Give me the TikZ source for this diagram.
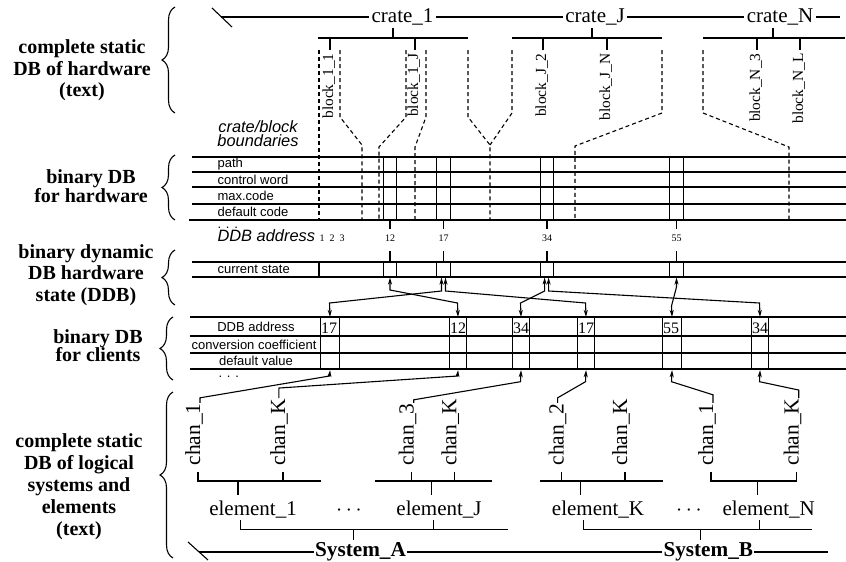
\documentclass[tikz,border=0pt]{standalone}
\usepackage{fontspec}
\setmainfont{Liberation Serif}
\setsansfont{Liberation Sans}
\usetikzlibrary{arrows.meta,decorations.pathreplacing}
\tikzset{
  grp/.style={font=\bfseries\fontsize{10}{10.7}\selectfont,align=center,inner sep=0pt},
  brc/.style={decorate,decoration={brace,amplitude=6.5pt}},
  big/.style={font=\fontsize{10.5}{12}\selectfont,inner sep=1pt},
  blk/.style={font=\fontsize{7.7}{9}\selectfont,rotate=90,anchor=base east,inner sep=0pt},
  chn/.style={font=\fontsize{10.75}{12}\selectfont,rotate=90,anchor=base west,inner sep=0pt},
  sys/.style={font=\bfseries\fontsize{10.6}{12}\selectfont,inner sep=0.3pt},
  lbl/.style={font=\sffamily\fontsize{6.5}{7}\selectfont,inner sep=0pt},
  itl/.style={font=\sffamily\itshape\fontsize{8.2}{6}\selectfont,inner sep=0pt},
  bnd/.style={dash pattern=on 2pt off 1.5pt},
  cell/.style={draw,inner sep=0pt},
  adr/.style={font=\fontsize{5}{6}\selectfont,inner sep=0pt,anchor=base},
  val/.style={font=\fontsize{8}{9}\selectfont,inner sep=0pt,anchor=base west},
  tips/.style={>={Stealth[length=3.5pt,width=2pt,inset=1pt]}}
}
\begin{document}
\begin{tikzpicture}[x=0.5pt,y=-0.5pt,line width=0.55pt,tips]
\useasboundingbox (0,0) rectangle (846,562);

\node[grp] (hwtxt) at (82,70.5) {complete static\\DB of hardware\\(text)};
\node[grp,font=\bfseries\fontsize{10}{9.2}\selectfont] (hwbin) at (91,186) {binary DB\\for hardware};
\node[grp] (ddbtxt) at (86,275) {binary dynamic\\DB hardware\\state (DDB)};
\node[grp,font=\bfseries\fontsize{10}{9.2}\selectfont] (clbin) at (98,345.5) {binary DB\\for clients};
\node[grp,font=\bfseries\fontsize{10}{10.9}\selectfont] (lgtxt) at (79,486.7) {complete static\\DB of logical\\systems and\\elements\\(text)};
\draw[brc] (175,113) -- (175,7);
\draw[brc] (175,220) -- (175,155);
\draw[brc] (175,305) -- (175,250);
\draw[brc] (173,380) -- (173,317);
\draw[brc] (173,558) -- (173,392);

\node[big] (cr1) at (402.5,17) {crate\_1};
\node[big] (crJ) at (595,17) {crate\_J};
\node[big] (crN) at (780,17) {crate\_N};
\draw (212,8) -- (232,27);
\draw (221,17) -- (cr1) -- (crJ) -- (crN) -- (840,17);
\draw (318,38) -- (468,38) (393,38) -- (393,28) (330,38) -- (330,50) (415,38) -- (415,50);
\draw (512,38) -- (662,38) (592,38) -- (592,28) (543,38) -- (543,50) (607,38) -- (607,50);
\draw (703,38) -- (845,38) (773,38) -- (773,28) (757,38) -- (757,50) (800,38) -- (800,50);
\node[blk] (b11) at (333,53) {block\_1\_1};
\node[blk] (b1J) at (418,53) {block\_1\_J};
\node[blk] (bJ2) at (546,53) {block\_J\_2};
\node[blk] (bJN) at (610,53) {block\_J\_N};
\node[blk] (bN3) at (760,53) {block\_N\_3};
\node[blk] (bNL) at (803,53) {block\_N\_L};

\draw[bnd] (319,50) -- (319,220);
\draw[bnd] (340,50) -- (340,117) -- (362,145) -- (362,220);
\draw[bnd] (406,50) -- (406,117) -- (379,147) -- (379,220);
\draw[bnd] (426,50) -- (426,117) -- (415,147) -- (415,220);
\draw[bnd] (468,50) -- (468,117) -- (490,145) -- (490,220);
\draw[bnd] (512,50) -- (512,113) -- (490,145);
\draw[bnd] (662,50) -- (662,113) -- (575,146) -- (575,220);
\draw[bnd] (703,50) -- (703,113) -- (789,147) -- (789,222);
\node[itl,align=center] (bnds) at (258,133.5) {crate/block\\boundaries};

\foreach \y in {157,172,187,204} \draw (192,\y) -- (846,\y);
\draw (189,220) -- (846,220);
\node[lbl,anchor=west] (pth) at (217,164.3) {path};
\node[lbl,anchor=west] (cwd) at (217,179.5) {control word};
\node[lbl,anchor=west] (mxc) at (217,195.8) {max.code};
\node[lbl,anchor=west] (dfc) at (217,212.2) {default code};
\node[lbl,anchor=base west] (hwdots) at (217,228) {. . .};
\node[itl,anchor=base west] (dda) at (217,241.7) {DDB address};
\foreach \n in {1,2,3} \node[adr] at (312+10*\n,241.7) {\n};

\draw (192,262) -- (846,262) (192,277) -- (846,277) (319,262) -- (319,277);
\node[lbl,anchor=west] (cst) at (217,269.5) {current state};
\foreach \n/\x in {12/390,17/443.5,34/547,55/676.5}{
  \node[cell,minimum width=6.75pt,minimum height=31.5pt] (hw\n) at (\x,188.5) {};
  \node[cell,minimum width=6.75pt,minimum height=7.5pt] (ddb\n) at (\x,269.5) {};
  \node[adr] (ad\n) at (\x,241.7) {\n};
  \draw (hw\n.south) -- ++(0,8) (ddb\n.north) -- ++(0,-10);
}

\foreach \y in {317,336,353,369} \draw (190,\y) -- (846,\y);
\node[lbl] (cda) at (256,326.5) {DDB address};
\node[lbl] (cco) at (254,344.5) {conversion coefficient};
\node[lbl] (cdv) at (256,361) {default value};
\node[lbl,anchor=base west] (cldots) at (218,377) {. . .};
\foreach \n/\v/\l/\w in {a/17/320/19,b/12/449/17,c/34/512/17,d/17/577/17,e/55/662/19,f/34/751/17}{
  \node[cell,anchor=north west,minimum width=\w*0.5pt,minimum height=26pt] (cl\n) at (\l,317) {};
  \node[val] at (\l+0.5,333.5) {\v};
}

\draw[<->] (ddb12.south) -- (390,290) -- (457.5,303) -- (clb.north);
\draw[<->] ([xshift=-1pt]ddb17.south) -- (441.5,291) -- (329.5,303) -- (cla.north);
\draw[<->] ([xshift=1pt]ddb17.south) -- (445.5,291) -- (585.5,303) -- (cld.north);
\draw[<->] ([xshift=-1.2pt]ddb34.south) -- (544.6,291) -- (520.5,303) -- (clc.north);
\draw[<->] ([xshift=0.8pt]ddb34.south) -- (548.6,291) -- (759.5,303) -- (clf.north);
\draw[<->] (ddb55.south) -- (676.5,287) -- (671.5,306) -- (cle.north);

\node[chn] (chA1) at (200,466) {chan\_1};
\node[chn] (chAK) at (285,466) {chan\_K};
\node[chn] (chJ3) at (413.7,466) {chan\_3};
\node[chn] (chJK) at (456.3,466) {chan\_K};
\node[chn] (chK2) at (563.7,466) {chan\_2};
\node[chn] (chKK) at (627,466) {chan\_K};
\node[chn] (chN1) at (713,466) {chan\_1};
\node[chn] (chNK) at (798.7,466) {chan\_K};
\draw[->] (chA1.base east) -- ++(0,-5) -- (329.5,376) -- (cla.south);
\draw[->] (chAK.east) -- ++(0,-10) -- (457.5,376) -- (clb.south);
\draw[->] (chJ3.base east) -- ++(0,-3) -- (520.5,381.7) -- (clc.south);
\draw[->] (chK2.east) -- ++(0,-5) -- (585.5,381.7) -- (cld.south);
\draw[->] (chN1.base east) -- ++(0,-8) -- (671.5,381.7) -- (cle.south);
\draw[->] (chNK.base east) -- ++(0,-8) -- (759.5,381.7) -- (clf.south);

\draw (198,472) -- (198,481) -- (321,481) (283,472) -- (283,481) (238,481) -- (238,495);
\draw (375,481) -- (492,481) (411.7,472) -- (411.7,481) (454.3,472) -- (454.3,481) (431.7,481) -- (431.7,495);
\draw (540,481) -- (663,481) (561.7,472) -- (561.7,481) (625,472) -- (625,481) (580.7,481) -- (580.7,495);
\draw (711,472) -- (711,481) -- (796.7,481) -- (796.7,472) (757.3,481) -- (757.3,495);
\node[big,anchor=base] (e1) at (253,515) {element\_1};
\node[big,anchor=base] (eJ) at (439,515) {element\_J};
\node[big,anchor=base] (eK) at (598,515) {element\_K};
\node[big,anchor=base] (eN) at (768.7,515) {element\_N};
\node[big,anchor=base] (dots1) at (349,515) {$\cdots$};
\node[big,anchor=base] (dots2) at (689,515) {$\cdots$};

\draw (240.7,520) -- (240.7,529.3) -- (508,529.3) (433.3,520) -- (433.3,529.3) (353.3,529.3) -- (353.3,540);
\draw (583.3,520) -- (583.3,529.3) -- (811.7,529.3) (759.3,520) -- (759.3,529.3) (700.7,529.3) -- (700.7,540);
\node[sys] (sA) at (360.5,552) {System\_A};
\node[sys] (sB) at (708.3,552) {System\_B};
\draw (188,542) -- (208,560);
\draw (199,552) -- (sA) -- (sB) -- (828,552);
\end{tikzpicture}
\end{document}
